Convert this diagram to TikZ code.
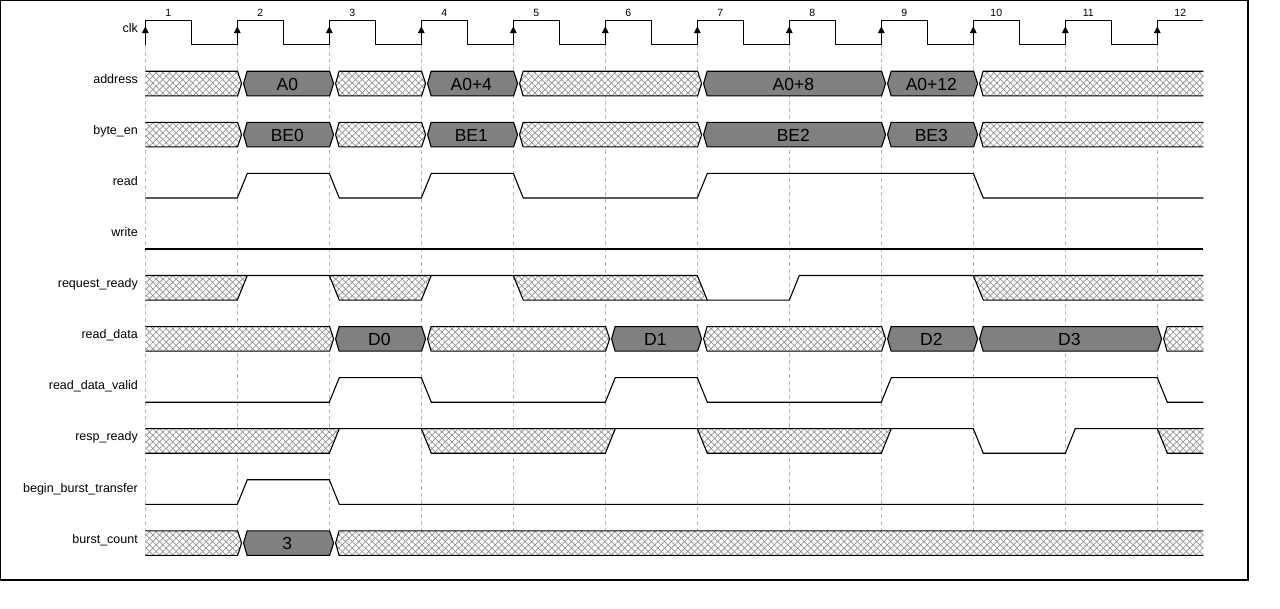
\documentclass[tikz,border=0pt]{standalone}
\usepackage{fontspec}
\setmainfont{Liberation Sans}
\usetikzlibrary{patterns.meta}

\definecolor{busgray}{RGB}{128,128,128}
\definecolor{hatchgray}{RGB}{145,145,145}
\definecolor{gridgray}{RGB}{185,185,185}

\tikzset{
  wire/.style={line width=1.1pt, line join=miter},
  gridline/.style={gridgray, line width=0.8pt, dash pattern=on 4pt off 3pt},
  hatch/.style={fill=white,
    postaction={pattern={Lines[angle=45,distance=4.7pt,line width=0.7pt]}, pattern color=hatchgray},
    postaction={pattern={Lines[angle=-45,distance=4.7pt,line width=0.7pt]}, pattern color=hatchgray}},
  value/.style={fill=busgray},
  signame/.style={anchor=base east, inner sep=0pt, font=\fontsize{12.5}{14}\selectfont},
  vallabel/.style={anchor=base, inner sep=0pt, font=\fontsize{17.5}{20}\selectfont},
  cyclenum/.style={anchor=base, inner sep=0pt, font=\fontsize{10.5}{12}\selectfont},
}

% One bus segment between clock edges #1 and #2 (1 = open start, 13 = open end);
% #3 = fill style, #4 = printed value
\newcommand\tdBus[4]{%
  \pgfmathsetmacro\tdxa{145.3+92*(#1-1)}%
  \pgfmathsetmacro\tdxb{#2==13 ? 1203.3 : 145.3+92*(#2-1)}%
  \ifnum#1=1
    \edef\tdLa{\tdxa}\edef\tdLm{\tdxa}%
  \else
    \pgfmathsetmacro\tdLa{\tdxa+9.8}\pgfmathsetmacro\tdLm{\tdxa+6.3}%
  \fi
  \ifnum#2=13
    \edef\tdRa{\tdxb}\edef\tdRm{\tdxb}%
  \else
    \pgfmathsetmacro\tdRa{\tdxb+0.3}\pgfmathsetmacro\tdRm{\tdxb+4.3}%
  \fi
  \fill[#3] (\tdLa,-12.3) -- (\tdRa,-12.3) -- (\tdRm,0) -- (\tdRa,12.3) -- (\tdLa,12.3) -- (\tdLm,0) -- cycle;
  \ifnum#1=1
    \draw[wire] (\tdLa,-12.3) -- (\tdRa,-12.3) -- (\tdRm,0) -- (\tdRa,12.3) -- (\tdLa,12.3);
  \else\ifnum#2=13
    \draw[wire] (\tdRa,-12.3) -- (\tdLa,-12.3) -- (\tdLm,0) -- (\tdLa,12.3) -- (\tdRa,12.3);
  \else
    \draw[wire] (\tdLm,0) -- (\tdLa,-12.3) -- (\tdRa,-12.3) -- (\tdRm,0) -- (\tdRa,12.3) -- (\tdLa,12.3) -- cycle;
  \fi\fi
  \if\relax\detokenize{#4}\relax\else
    \node[vallabel] at ({(\tdxa+\tdxb)/2+4},6.5) {#4};
  \fi
}

\begin{document}
\begin{tikzpicture}[x=1pt,y=-1pt]
  \useasboundingbox (0,0) rectangle (1280,608);
  \draw[line width=1.3pt] (0.8,0.8) rectangle (1248,580);

  % cycle grid
  \foreach \k in {1,...,12} {
    \draw[gridline] ({145.3+92*(\k-1)},45) -- ({145.3+92*(\k-1)},555.4);
  }

  % clk
  \begin{scope}[yshift=-32.5pt]
    \node[signame] (n-clk) at (138,0) {clk};
    \draw[wire] (145.3,12.3) \foreach \k in {0,...,10} {
        -- ({145.3+92*\k},-12.3) -- ({191.3+92*\k},-12.3) -- ({191.3+92*\k},12.3) -- ({237.3+92*\k},12.3) }
      -- (1157.3,-12.3) -- (1203.3,-12.3);
    \foreach \k in {1,...,12} {
      \fill ({145.3+92*(\k-1)-3.4},0.5) -- ({145.3+92*(\k-1)+3.4},0.5) -- ({145.3+92*(\k-1)},-6) -- cycle;
      \node[cyclenum] (cyc-\k) at ({168.3+92*(\k-1)},-16.5) {\k};
    }
  \end{scope}

  % address
  \begin{scope}[yshift=-83.56pt]
    \node[signame] (n-address) at (138,0) {address};
    \tdBus{1}{2}{hatch}{}
    \tdBus{2}{3}{value}{A0}
    \tdBus{3}{4}{hatch}{}
    \tdBus{4}{5}{value}{A0+4}
    \tdBus{5}{7}{hatch}{}
    \tdBus{7}{9}{value}{A0+8}
    \tdBus{9}{10}{value}{A0+12}
    \tdBus{10}{13}{hatch}{}
  \end{scope}

  % byte_en
  \begin{scope}[yshift=-134.62pt]
    \node[signame] (n-byteen) at (138,0) {byte\_en};
    \tdBus{1}{2}{hatch}{}
    \tdBus{2}{3}{value}{BE0}
    \tdBus{3}{4}{hatch}{}
    \tdBus{4}{5}{value}{BE1}
    \tdBus{5}{7}{hatch}{}
    \tdBus{7}{9}{value}{BE2}
    \tdBus{9}{10}{value}{BE3}
    \tdBus{10}{13}{hatch}{}
  \end{scope}

  % read
  \begin{scope}[yshift=-185.68pt]
    \node[signame] (n-read) at (138,0) {read};
    \draw[wire] (145.3,12.3) -- (237.3,12.3) -- (247.3,-12.3) -- (329.3,-12.3) -- (339.3,12.3)
      -- (421.3,12.3) -- (431.3,-12.3) -- (513.3,-12.3) -- (523.3,12.3) -- (697.3,12.3)
      -- (707.3,-12.3) -- (973.3,-12.3) -- (983.3,12.3) -- (1203.3,12.3);
  \end{scope}

  % write
  \begin{scope}[yshift=-236.74pt]
    \node[signame] (n-write) at (138,0) {write};
    \draw[wire] (145.3,12.3) -- (1203.3,12.3);
  \end{scope}

  % request_ready
  \begin{scope}[yshift=-287.8pt]
    \node[signame] (n-reqready) at (138,0) {request\_ready};
    \fill[hatch] (145.3,-12.3) -- (247.3,-12.3) -- (237.3,12.3) -- (145.3,12.3) -- cycle;
    \fill[hatch] (329.3,-12.3) -- (431.3,-12.3) -- (421.3,12.3) -- (339.3,12.3) -- cycle;
    \fill[hatch] (513.3,-12.3) -- (697.3,-12.3) -- (707.3,12.3) -- (523.3,12.3) -- cycle;
    \fill[hatch] (973.3,-12.3) -- (1203.3,-12.3) -- (1203.3,12.3) -- (983.3,12.3) -- cycle;
    \draw[wire] (145.3,-12.3) -- (697.3,-12.3) -- (707.3,12.3) -- (789.3,12.3) -- (799.3,-12.3) -- (1203.3,-12.3);
    \draw[wire] (145.3,12.3) -- (237.3,12.3) -- (247.3,-12.3);
    \draw[wire] (329.3,-12.3) -- (339.3,12.3) -- (421.3,12.3) -- (431.3,-12.3);
    \draw[wire] (513.3,-12.3) -- (523.3,12.3) -- (707.3,12.3);
    \draw[wire] (973.3,-12.3) -- (983.3,12.3) -- (1203.3,12.3);
  \end{scope}

  % read_data
  \begin{scope}[yshift=-338.86pt]
    \node[signame] (n-rdata) at (138,0) {read\_data};
    \tdBus{1}{3}{hatch}{}
    \tdBus{3}{4}{value}{D0}
    \tdBus{4}{6}{hatch}{}
    \tdBus{6}{7}{value}{D1}
    \tdBus{7}{9}{hatch}{}
    \tdBus{9}{10}{value}{D2}
    \tdBus{10}{12}{value}{D3}
    \tdBus{12}{13}{hatch}{}
  \end{scope}

  % read_data_valid
  \begin{scope}[yshift=-389.92pt]
    \node[signame] (n-rvalid) at (138,0) {read\_data\_valid};
    \draw[wire] (145.3,12.3) -- (329.3,12.3) -- (339.3,-12.3) -- (421.3,-12.3) -- (431.3,12.3)
      -- (605.3,12.3) -- (615.3,-12.3) -- (697.3,-12.3) -- (707.3,12.3) -- (881.3,12.3)
      -- (891.3,-12.3) -- (1157.3,-12.3) -- (1167.3,12.3) -- (1203.3,12.3);
  \end{scope}

  % resp_ready
  \begin{scope}[yshift=-440.98pt]
    \node[signame] (n-respready) at (138,0) {resp\_ready};
    \fill[hatch] (145.3,-12.3) -- (339.3,-12.3) -- (329.3,12.3) -- (145.3,12.3) -- cycle;
    \fill[hatch] (421.3,-12.3) -- (615.3,-12.3) -- (605.3,12.3) -- (431.3,12.3) -- cycle;
    \fill[hatch] (697.3,-12.3) -- (891.3,-12.3) -- (881.3,12.3) -- (707.3,12.3) -- cycle;
    \fill[hatch] (1157.3,-12.3) -- (1203.3,-12.3) -- (1203.3,12.3) -- (1167.3,12.3) -- cycle;
    \draw[wire] (145.3,-12.3) -- (973.3,-12.3) -- (983.3,12.3) -- (1065.3,12.3) -- (1075.3,-12.3) -- (1203.3,-12.3);
    \draw[wire] (145.3,12.3) -- (329.3,12.3) -- (339.3,-12.3);
    \draw[wire] (421.3,-12.3) -- (431.3,12.3) -- (605.3,12.3) -- (615.3,-12.3);
    \draw[wire] (697.3,-12.3) -- (707.3,12.3) -- (881.3,12.3) -- (891.3,-12.3);
    \draw[wire] (1157.3,-12.3) -- (1167.3,12.3) -- (1203.3,12.3);
  \end{scope}

  % begin_burst_transfer
  \begin{scope}[yshift=-492.04pt]
    \node[signame] (n-bbt) at (138,0) {begin\_burst\_transfer};
    \draw[wire] (145.3,12.3) -- (237.3,12.3) -- (247.3,-12.3) -- (329.3,-12.3) -- (339.3,12.3) -- (1203.3,12.3);
  \end{scope}

  % burst_count
  \begin{scope}[yshift=-543.1pt]
    \node[signame] (n-bcount) at (138,0) {burst\_count};
    \tdBus{1}{2}{hatch}{}
    \tdBus{2}{3}{value}{3}
    \tdBus{3}{13}{hatch}{}
  \end{scope}
\end{tikzpicture}
\end{document}
